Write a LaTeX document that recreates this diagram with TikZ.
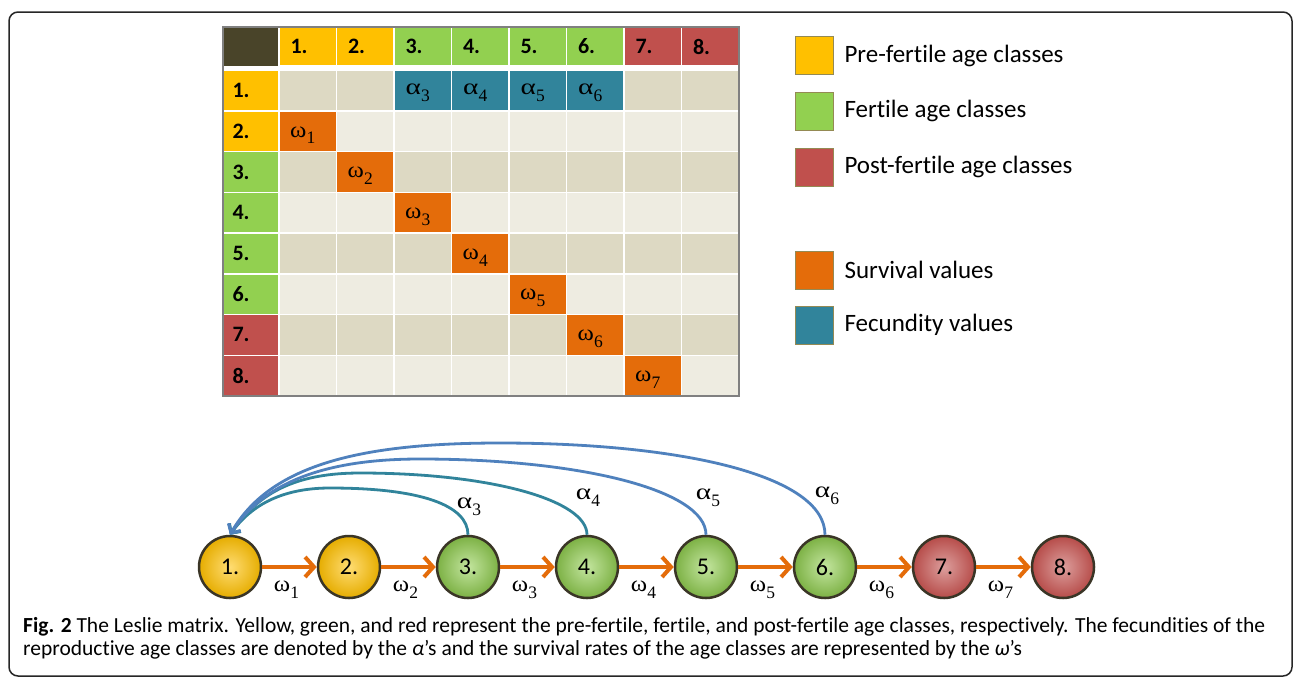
\documentclass[tikz,border=0pt]{standalone}
\usepackage{fontspec}
\setmainfont{Carlito}[Ligatures=CommonOff]
\newfontfamily\grk{Liberation Serif}
\usetikzlibrary{arrows.meta}
\definecolor{yel}{HTML}{FFC000}
\definecolor{grn}{HTML}{92D050}
\definecolor{rdd}{HTML}{C0504D}
\definecolor{org}{HTML}{E46C0A}
\definecolor{tea}{HTML}{31849B}
\definecolor{blu}{HTML}{4F81BD}
\definecolor{cellA}{HTML}{DDD9C3}
\definecolor{cellB}{HTML}{EEECE1}
\definecolor{corner}{HTML}{494429}
\definecolor{legline}{HTML}{948A54}
\definecolor{ringc}{HTML}{3A3526}
\newcommand{\gsub}[3]{{\grk\fontsize{22.5}{24}\selectfont\scalebox{#3}[1]{#1}\raisebox{-0.3em}{\fontsize{17.5}{17}\selectfont #2}}}
\newcommand{\rowcol}[1]{\ifcase#1\or yel\or yel\or grn\or grn\or grn\or grn\or rdd\or rdd\fi}
\begin{document}
\begin{tikzpicture}[x=1pt,y=-1pt,
  cell/.style={draw=white,line width=1.5pt},
  hdr/.style={anchor=west,font=\fontsize{22}{24}\selectfont\bfseries},
  gtext/.style={inner sep=0pt},
  legbox/.style={draw=legline,line width=1pt,minimum size=38pt,inner sep=0pt},
  legtext/.style={anchor=west,font=\fontsize{25}{27}\selectfont},
  circ/.style={circle,draw=ringc,line width=2.5pt,minimum size=62pt,inner sep=0pt,font=\fontsize{24}{26}\selectfont},
  warr/.style={draw=org,line width=4pt,-{Straight Barb[length=9pt,width=20pt]}},
  tarc/.style={draw=tea,line width=2.8pt,-{Straight Barb[length=7pt,width=14pt]}},
  barc/.style={draw=blu,line width=2.8pt,-{Straight Barb[length=7pt,width=14pt]}},
  caption/.style={anchor=base west,font=\fontsize{21.5}{24}\selectfont,inner sep=0pt}
]
\useasboundingbox (0,0) rectangle (1295,678);
\fill[white] (0,0) rectangle (1295,678);
\draw[line width=1.5pt,rounded corners=9pt,black!85] (9,12) rectangle (1292,676);

% ---------- matrix ----------
\fill[corner] (223,27) rectangle (279,66);
\foreach \j in {1,...,8}{
  \filldraw[cell,fill=\rowcol{\j}] ({279+(\j-1)*57.5},27) rectangle ++(57.5,39);
  \node[hdr] at ({279+(\j-1)*57.5+8},46.5) {\j.};
}
\foreach \i in {1,...,8}{
  \pgfmathtruncatemacro\odd{mod(\i,2)}
  \ifnum\odd=1 \def\cc{cellA}\else\def\cc{cellB}\fi
  \filldraw[cell,fill=\rowcol{\i}] (223,{70+(\i-1)*40.75}) rectangle (279,{70+\i*40.75});
  \node[hdr] at (229,{70+(\i-0.5)*40.75}) {\i.};
  \foreach \j in {1,...,8}{
    \filldraw[cell,fill=\cc] ({279+(\j-1)*57.5},{70+(\i-1)*40.75}) rectangle ++(57.5,40.75);
  }
}
\foreach \j in {3,...,6}{
  \filldraw[cell,fill=tea] ({279+(\j-1)*57.5},70) rectangle ++(57.5,40.75);
  \node[gtext] at ({279+(\j-0.5)*57.5-5},93) {\gsub{α}{\j}{1.3}};
}
\foreach \j in {1,...,7}{
  \filldraw[cell,fill=org] ({279+(\j-1)*57.5},{70+\j*40.75}) rectangle ++(57.5,40.75);
  \node[gtext] at ({279+(\j-0.5)*57.5-5},{70+(\j+0.5)*40.75+4}) {\gsub{ω}{\j}{1.1}};
}
\draw[black!50,line width=1.3pt] (223,27) rectangle (739,396);

% ---------- legend ----------
\node[legbox,fill=yel] (l1) at (814.5,55.5) {};
\node[legtext] (t1) at (841,55.5) {Pre-fertile age classes};
\node[legbox,fill=grn] (l2) at (814.5,111) {};
\node[legtext] (t2) at (841,111) {Fertile age classes};
\node[legbox,fill=rdd] (l3) at (814.5,167) {};
\node[legtext] (t3) at (841,167) {Post-fertile age classes};
\node[legbox,fill=org] (l4) at (814.5,270) {};
\node[legtext] (t4) at (841,270) {Survival values};
\node[legbox,fill=tea] (l5) at (814.5,325) {};
\node[legtext] (t5) at (841,325) {Fecundity values};

% ---------- graph ----------
\node[circ,inner color=yel!55!white,outer color=yel!90!black] (c1) at (230,567) {1.};
\node[circ,inner color=yel!55!white,outer color=yel!90!black] (c2) at (349,567) {2.};
\node[circ,inner color=grn!55!white,outer color=grn!85!black] (c3) at (468,567) {3.};
\node[circ,inner color=grn!55!white,outer color=grn!85!black] (c4) at (587,567) {4.};
\node[circ,inner color=grn!55!white,outer color=grn!85!black] (c5) at (706,567) {5.};
\node[circ,inner color=grn!55!white,outer color=grn!85!black] (c6) at (825,567) {6.};
\node[circ,inner color=rdd!55!white,outer color=rdd!95!black] (c7) at (944,567) {7.};
\node[circ,inner color=rdd!55!white,outer color=rdd!95!black] (c8) at (1063,567) {8.};

\foreach \a/\b/\k in {c1/c2/1,c2/c3/2,c3/c4/3,c4/c5/4,c5/c6/5,c6/c7/6,c7/c8/7}{
  \draw[warr] (\a) -- (\b);
  \node[gtext] (w\k) at ({289.5+119*(\k-1)-3},590) {\gsub{ω}{\k}{1.1}};
}

\coordinate (p3) at (330,488);
\coordinate (p4) at (360,473);
\coordinate (p5) at (420,459);
\coordinate (p6) at (500,443);
\draw[tarc] (c3.north) .. controls (468,505) and (420,488) .. (p3) .. controls (290,488) and (255,500) .. (c1.north);
\draw[tarc] (c4.north) .. controls (587,500) and (490,473) .. (p4) .. controls (300,473) and (260,490) .. (c1.north);
\draw[barc] (c5.north) .. controls (706,490) and (580,459) .. (p5) .. controls (330,459) and (265,480) .. (c1.north);
\draw[barc] (c6.north) .. controls (825,475) and (680,443) .. (p6) .. controls (360,443) and (270,465) .. (c1.north);

\node[gtext] (a3) at (469,507) {\gsub{α}{3}{1.3}};
\node[gtext] (a4) at (588,498) {\gsub{α}{4}{1.3}};
\node[gtext] (a5) at (708,498) {\gsub{α}{5}{1.3}};
\node[gtext] (a6) at (827,496) {\gsub{α}{6}{1.3}};

% ---------- caption ----------
\node[caption] (cap1) at (23,632) {\textbf{Fig. 2} The Leslie matrix. Yellow, green, and red represent the pre-fertile, fertile, and post-fertile age classes, respectively. The fecundities of the};
\node[caption] (cap2) at (23,655) {reproductive age classes are denoted by the \textit{α}’s and the survival rates of the age classes are represented by the \textit{ω}’s};
\end{tikzpicture}
\end{document}
